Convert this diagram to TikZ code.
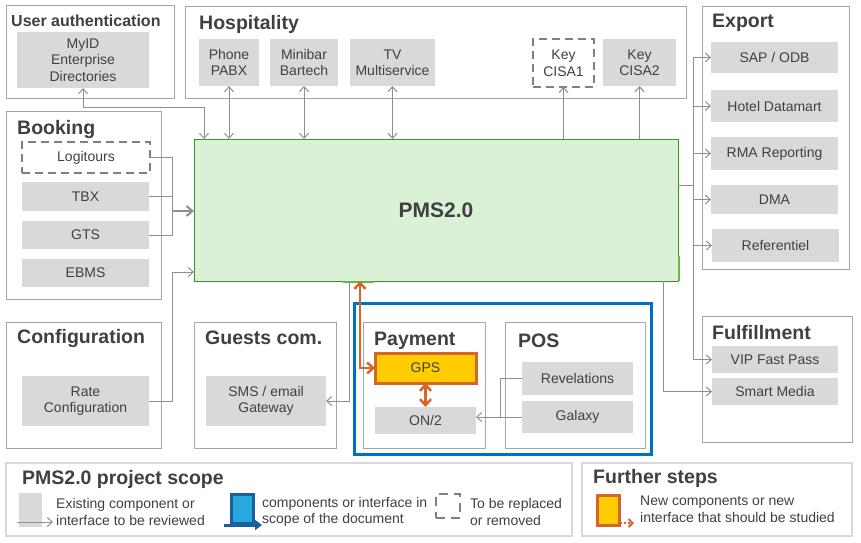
\documentclass[tikz,border=0pt]{standalone}
\usepackage{fontspec}
\setmainfont{Liberation Sans}
\usetikzlibrary{arrows.meta}
\definecolor{compgray}{HTML}{D9D9D9}
\definecolor{linegray}{HTML}{8F8F8F}
\definecolor{framegray}{HTML}{A6A6A6}
\definecolor{txtgray}{HTML}{404040}
\definecolor{pmsgreen}{HTML}{DBF1D6}
\definecolor{pmsedge}{HTML}{3E8E2E}
\definecolor{pmsbright}{HTML}{5DBB3F}
\definecolor{scopeblue}{HTML}{0070C0}
\definecolor{gpsyellow}{HTML}{FFCC00}
\definecolor{gpsorange}{HTML}{D5652A}
\definecolor{legblue}{HTML}{29A8E0}
\definecolor{legblueedge}{HTML}{1A5E9E}
\begin{document}
\begin{tikzpicture}[x=1pt,y=-1pt,
  every node/.style={text=txtgray, font=\fontsize{14}{16.5}\selectfont},
  box/.style={anchor=north west, inner sep=0pt, outer sep=0pt},
  frame/.style={box, draw=framegray, line width=1pt},
  legframe/.style={box, draw=compgray, line width=1.5pt},
  comp/.style={box, fill=compgray, align=center},
  gone/.style={comp, fill=white, draw=gray, line width=2.5pt, dash pattern=on 8pt off 5pt},
  title/.style={anchor=west, inner sep=0pt, font=\bfseries\fontsize{19.5}{22}\selectfont},
  wire/.style={draw=linegray, line width=1pt},
  link/.style={wire, -{Straight Barb[length=5pt,width=9pt]}},
  dlink/.style={wire, {Straight Barb[length=5pt,width=9pt]}-{Straight Barb[length=5pt,width=9pt]}},
  newlink/.style={draw=gpsorange, line width=2.5pt, {Straight Barb[length=6pt,width=11pt]}-{Straight Barb[length=6pt,width=11pt]}}]
\fill[white] (0,0) rectangle (861,542);
\useasboundingbox (0,0) rectangle (861,542);
% containers
\node[frame, minimum width=168, minimum height=93] (auth) at (6,5) {};
\node[frame, minimum width=501, minimum height=92] (hosp) at (185,6) {};
\node[frame, minimum width=147, minimum height=263] (export) at (702,6) {};
\node[frame, minimum width=155, minimum height=188] (booking) at (6,111) {};
\node[frame, minimum width=155, minimum height=126] (config) at (6,322) {};
\node[frame, minimum width=142, minimum height=126] (guests) at (194,322) {};
\node[frame, minimum width=122, minimum height=126] (payment) at (363,322) {};
\node[frame, minimum width=140, minimum height=126] (pos) at (505,322) {};
\node[frame, minimum width=150, minimum height=126] (fulfil) at (702,316) {};
\node[box, draw=scopeblue, line width=3pt, minimum width=297, minimum height=151] (scope) at (354,303) {};
\node[legframe, minimum width=566, minimum height=73] (legscope) at (6,463) {};
\node[legframe, minimum width=270, minimum height=73] (legsteps) at (582,463) {};
\node[title, font=\bfseries\fontsize{16}{19}\selectfont] (authtitle) at (11,21) {User authentication};
\node[title] (hosptitle) at (199,24) {Hospitality};
\node[title] (exporttitle) at (712,23) {Export};
\node[title] (bookingtitle) at (17,129) {Booking};
\node[title] (configtitle) at (17,338) {Configuration};
\node[title] (gueststitle) at (205,338) {Guests com.};
\node[title] (paymenttitle) at (374,341) {Payment};
\node[title] (postitle) at (518,341) {POS};
\node[title] (fulfiltitle) at (712,333) {Fulfillment};
\node[title] (scopetitle) at (22,479) {PMS2.0 project scope};
\node[title] (stepstitle) at (593,478) {Further steps};
% components
\node[comp, minimum width=132, minimum height=56] (myid) at (17,32) {MyID\\Enterprise\\Directories};
\node[comp, minimum width=60, minimum height=47] (pabx) at (199,39) {Phone\\PABX};
\node[comp, minimum width=68, minimum height=47] (minibar) at (270,39) {Minibar\\Bartech};
\node[comp, minimum width=85, minimum height=47] (tv) at (350,39) {TV\\Multiservice};
\node[gone, minimum width=61, minimum height=48] (cisa1) at (533,39) {Key\\CISA1};
\node[comp, minimum width=73, minimum height=47] (cisa2) at (603,39) {Key\\CISA2};
\node[comp, minimum width=127, minimum height=31] (sap) at (711,42) {SAP / ODB};
\node[comp, minimum width=127, minimum height=32] (datamart) at (711,90) {Hotel Datamart};
\node[comp, minimum width=127, minimum height=33] (rma) at (711,137) {RMA Reporting};
\node[comp, minimum width=127, minimum height=29] (dma) at (711,185) {DMA};
\node[comp, minimum width=127, minimum height=33] (referentiel) at (712,229) {Referentiel};
\node[gone, minimum width=128, minimum height=31] (logitours) at (22,142) {Logitours};
\node[comp, minimum width=127, minimum height=29] (tbx) at (22,182) {TBX};
\node[comp, minimum width=127, minimum height=28] (gts) at (22,221) {GTS};
\node[comp, minimum width=127, minimum height=28] (ebms) at (22,259) {EBMS};
\node[box, fill=pmsgreen, draw=pmsedge, line width=1pt, minimum width=484, minimum height=142, font=\bfseries\fontsize{21}{24}\selectfont] (pms) at (194,139) {PMS2.0};
\node[comp, minimum width=127, minimum height=50] (rate) at (22,376) {Rate\\Configuration};
\node[comp, minimum width=120, minimum height=50] (gateway) at (206,376) {SMS / email\\Gateway};
\node[comp, fill=gpsyellow, draw=gpsorange, line width=3pt, minimum width=101, minimum height=30] (gps) at (375,353) {GPS};
\node[comp, minimum width=101, minimum height=27] (on2) at (375,407) {ON/2};
\node[comp, minimum width=111, minimum height=33] (revelations) at (522,362) {Revelations};
\node[comp, minimum width=111, minimum height=32] (galaxy) at (522,401) {Galaxy};
\node[comp, minimum width=126, minimum height=27] (vip) at (712,346) {VIP Fast Pass};
\node[comp, minimum width=126, minimum height=27] (smart) at (712,378) {Smart Media};
\draw[pmsbright, line width=2pt] (343,282) -- (374,282);
\draw[pmsbright, line width=2pt] (679,256) -- (679,281);
% links
\coordinate (bookjoin) at (172,211);
\coordinate (ratebend) at (172,272);
\coordinate (smsdrop) at (349,281);
\coordinate (gpsdrop) at (360,281);
\coordinate (posjoin) at (500,417);
\coordinate (expjoin) at (693,185);
\coordinate (smartdrop) at (663,281);
\draw[dlink] (myid.south) -- (myid.south |- 0,107) -| ([xshift=10]pms.north west);
\foreach \t in {pabx,minibar,tv}
  \draw[dlink] (\t.south) -- (\t.south |- pms.north);
\foreach \t in {cisa1,cisa2}
  \draw[link] (\t.south |- pms.north) -- (\t.south);
\draw[wire] (logitours.east) -| (bookjoin);
\draw[wire] (gts.east) -| (bookjoin);
\draw[wire] (tbx.east) -- (tbx.east -| bookjoin);
\draw[wire, line width=2pt, -{Straight Barb[length=6pt,width=10pt]}] (bookjoin) -- (bookjoin -| pms.west);
\draw[link] (rate.east) -| (ratebend) -- (ratebend -| pms.west);
\draw[link] (smsdrop) |- (gateway.east);
\draw[newlink] (gpsdrop) |- (gps.west);
\draw[newlink] (gps.south) -- (on2.north);
\draw[wire] (revelations.west) -| (posjoin);
\draw[link] (galaxy.west) -- (galaxy.west -| on2.east);
\draw[wire] (pms.east |- expjoin) -- (expjoin);
\foreach \t in {sap,datamart,rma,dma,referentiel,vip}
  \draw[link] (expjoin) |- (\t.west);
\draw[link] (smartdrop) |- (smart.west);
% legend
\node[comp, minimum width=23, minimum height=34] (leggray) at (19,493) {};
\node[box, fill=legblue, draw=legblueedge, line width=3pt, minimum width=22, minimum height=29] (legblue) at (231,494) {};
\node[gone, minimum width=24, minimum height=24, dash pattern=on 9pt off 6pt] (leggone) at (436,494) {};
\node[box, fill=gpsyellow, draw=gpsorange, line width=3pt, minimum width=22, minimum height=30] (legnew) at (597,495) {};
\coordinate (leggrays) at (17,522);
\coordinate (leggraye) at (53,522);
\coordinate (legblues) at (224,525);
\coordinate (legbluee) at (262,525);
\coordinate (legnews) at (620,523);
\coordinate (legnewe) at (634,523);
\draw[link] (leggrays) -- (leggraye);
\draw[legblueedge, line width=3pt, -{Triangle[length=7pt,width=10pt]}] (legblues) -- (legbluee);
\draw[gpsorange, line width=2pt, dotted, -{Straight Barb[length=4pt,width=8pt]}] (legnews) -- (legnewe);
\node[anchor=west, align=left, inner sep=0pt] (legtext1) at (56,512) {Existing component or\\interface to be reviewed};
\node[anchor=west, align=left, inner sep=0pt] (legtext2) at (262,512) {components or interface in\\scope of the document};
\node[anchor=west, align=left, inner sep=0pt] (legtext3) at (470,512) {To be replaced\\or removed};
\node[anchor=west, align=left, inner sep=0pt] (legtext4) at (640,509) {New components or new\\interface that should be studied};
\end{tikzpicture}
\end{document}
